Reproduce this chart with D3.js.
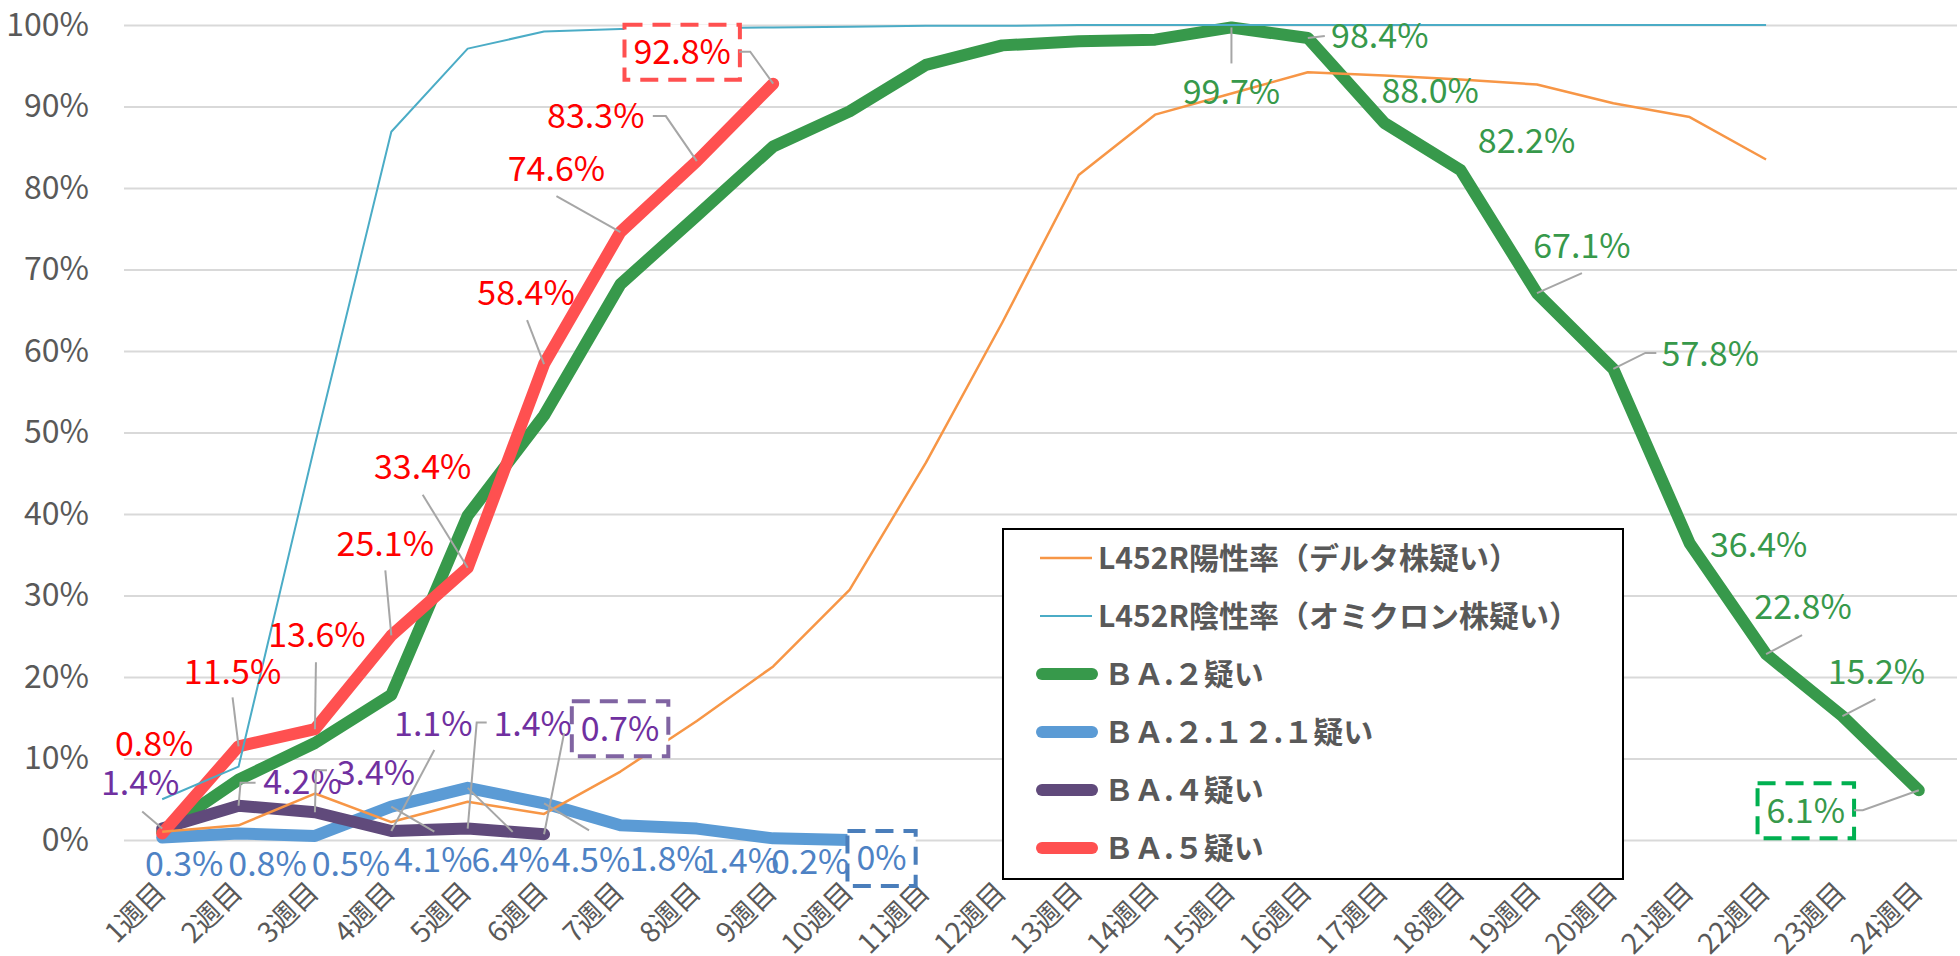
<!DOCTYPE html>
<html>
<head>
<meta charset="utf-8">
<script src="https://cdn.jsdelivr.net/npm/d3@7"></script>
<style>
  body { margin: 0; background: #fff; }
  text { font-family: "Noto Sans CJK JP", "Noto Sans", sans-serif; }
</style>
</head>
<body>
<svg id="chart"></svg>
<script>
// categories
const weeks = d3.range(1, 25).map(i => i + "週目");

// series values (%)
const deltaRate   = [1.0, 1.8, 5.7, 2.2, 4.7, 3.2, 8.4, 14.6, 21.3, 30.7, 46.3, 63.5, 81.6, 89.0, 91.6, 94.2, 93.8, 93.3, 92.7, 90.4, 88.7, 83.5];
const omicronRate = [5.0, 9.0, 48.5, 86.9, 97.1, 99.2, 99.5, 99.6, 99.7, 99.8, 99.9, 99.9, 100, 100, 100, 100, 100, 100, 100, 100, 100, 100];
const ba2    = [1.0, 7.4, 11.9, 17.8, 39.8, 52.1, 68.2, 76.6, 85.1, 89.4, 95.1, 97.5, 98.0, 98.2, 99.7, 98.4, 88.0, 82.2, 67.1, 57.8, 36.4, 22.8, 15.2, 6.1];
const ba2121 = [0.3, 0.8, 0.5, 4.1, 6.4, 4.5, 1.8, 1.4, 0.2, 0.0];
const ba4    = [1.4, 4.2, 3.4, 1.1, 1.4, 0.7];
const ba5    = [0.8, 11.5, 13.6, 25.1, 33.4, 58.4, 74.6, 83.3, 92.8];

const seriesNames = ["L452R陽性率（デルタ株疑い）", "L452R陰性率（オミクロン株疑い）", "ＢＡ.２疑い", "ＢＡ.２.１２.１疑い", "ＢＡ.４疑い", "ＢＡ.５疑い"];
const yTicks = d3.range(0, 101, 10);

// label placement: offset of label centre from its point, leader start / elbow offsets
const ba5Labels = [
  { i: 0, dx: -8, dy: -90 },
  { i: 1, dx: -6, dy: -75, lead: [[-6, -49]] },
  { i: 2, dx: 2, dy: -94, lead: [[1, -67]] },
  { i: 3, dx: -6, dy: -92, lead: [[-6, -65]] },
  { i: 4, dx: -45, dy: -101, lead: [[-45, -73]] },
  { i: 5, dx: -18, dy: -71, lead: [[-17, -44]] },
  { i: 6, dx: -64, dy: -63, lead: [[-64, -36]] },
  { i: 7, dx: -101, dy: -45, lead: [[-44, -45], [-31, -45]] },
  { i: 8, dx: -91, dy: -32, lead: [[-34, -32], [-23, -32]], box: true }
];
const ba4Labels = [
  { i: 0, dx: -22, dy: -46, lead: [[-20, -17]] },
  { i: 1, dx: 64, dy: -24, lead: [[17, -23], [2, -23]] },
  { i: 2, dx: 61, dy: -40, lead: [[12, -42], [1, -42]] },
  { i: 3, dx: 42, dy: -107, lead: [[43, -81]] },
  { i: 4, dx: 65, dy: -105, lead: [[19, -106], [9, -106]] },
  { i: 5, dx: 76, dy: -106, lead: [[20, -101]], box: true }
];
const ba2121Labels = [
  { i: 0, dx: 22, dy: 26 },
  { i: 1, dx: 29, dy: 30 },
  { i: 2, dx: 36, dy: 28 },
  { i: 3, dx: 42, dy: 53, lead: [[43, 25]] },
  { i: 4, dx: 43, dy: 72, lead: [[45, 44]] },
  { i: 5, dx: 47, dy: 56, lead: [[45, 27]] },
  { i: 6, dx: 48, dy: 33 },
  { i: 7, dx: 43, dy: 32 },
  { i: 8, dx: 37, dy: 23 },
  { i: 9, dx: 32, dy: 18, box: true }
];
const ba2Labels = [
  { i: 14, dx: 0, dy: 64, lead: [[0, 36]] },
  { i: 15, dx: 72, dy: -2, lead: [[17, -2]] },
  { i: 16, dx: 46, dy: -32 },
  { i: 17, dx: 66, dy: -29 },
  { i: 18, dx: 45, dy: -47, lead: [[45, -20]] },
  { i: 19, dx: 97, dy: -15, lead: [[43, -16], [32, -16]] },
  { i: 20, dx: 69, dy: 1 },
  { i: 21, dx: 37, dy: -47, lead: [[36, -19]] },
  { i: 22, dx: 34, dy: -44, lead: [[33, -17]] },
  { i: 23, dx: -113, dy: 20, lead: [[-65, 20], [-56, 20]], box: true }
];

const series = [
  { name: seriesNames[2], values: ba2, color: "#37994b", width: 12, text: "#37994b", box: "#00b050", labels: ba2Labels },
  { name: seriesNames[3], values: ba2121, color: "#5b9bd5", width: 12, text: "#4e82c4", box: "#4a7ebb", labels: ba2121Labels },
  { name: seriesNames[4], values: ba4, color: "#604a7b", width: 12, text: "#7030a0", box: "#8064a2", labels: ba4Labels },
  { name: seriesNames[5], values: ba5, color: "#ff5050", width: 12, text: "#ff0000", box: "#ff5050", labels: ba5Labels },
  { name: seriesNames[0], values: deltaRate, color: "#f79646", width: 2.5 },
  { name: seriesNames[1], values: omicronRate, color: "#4bacc6", width: 2 }
];
const legendOrder = [4, 5, 0, 1, 2, 3];

const W = 1960, H = 956;
const plot = { left: 124, right: 1957, top: 25, bottom: 840 };

const svg = d3.select("#chart").attr("width", W).attr("height", H);
svg.append("rect").attr("width", W).attr("height", H).attr("fill", "#fff");

const x = d3.scalePoint().domain(weeks).range([plot.left, plot.right]).padding(0.5);
const y = d3.scaleLinear().domain([0, 100]).range([plot.bottom, plot.top]);

// grid + y labels
svg.append("g")
  .attr("transform", `translate(${plot.left},0)`)
  .call(d3.axisLeft(y).tickValues(yTicks).tickFormat(d => d + "%")
    .tickSizeInner(-(plot.right - plot.left)).tickSizeOuter(0).tickPadding(35))
  .call(g => g.select(".domain").remove())
  .call(g => g.selectAll("line").attr("stroke", "#d9d9d9").attr("stroke-width", 2))
  .call(g => g.selectAll("text")
    .attr("fill", "#595959").attr("font-size", 32)
    .attr("font-family", '"Noto Sans CJK JP", sans-serif'));

// x labels
svg.append("g")
  .attr("transform", `translate(0,${plot.bottom})`)
  .call(d3.axisBottom(x).tickSize(0).tickPadding(0))
  .call(g => g.select(".domain").remove())
  .call(g => g.selectAll("text")
    .attr("y", 0).attr("dy", "0.35em")
    .attr("transform", "translate(-2,47) rotate(-45)")
    .attr("text-anchor", "end")
    .attr("fill", "#595959").attr("font-size", 28)
    .attr("font-family", '"Noto Sans CJK JP", sans-serif'));

const line = d3.line().x((d, i) => x(weeks[i])).y(d => y(d));

svg.append("g")
  .selectAll("path")
  .data(series)
  .join("path")
  .attr("d", s => line(s.values))
  .attr("fill", "none")
  .attr("stroke", s => s.color)
  .attr("stroke-width", s => s.width)
  .attr("stroke-linejoin", "round")
  .attr("stroke-linecap", s => s.width > 5 ? "round" : "butt");

// data labels
const fmt = v => v === 0 ? "0%" : v.toFixed(1) + "%";
const labelG = svg.append("g");

series.filter(s => s.labels).forEach(s => {
  s.labels.forEach(l => {
    const px = x(weeks[l.i]), py = y(s.values[l.i]);
    if (l.lead) {
      const pts = l.lead.map(o => [px + o[0], py + o[1]]).concat([[px, py]]);
      labelG.append("path")
        .attr("d", d3.line()(pts))
        .attr("fill", "none")
        .attr("stroke", "#a6a6a6")
        .attr("stroke-width", 2);
    }
    const t = labelG.append("text")
      .attr("x", px + l.dx)
      .attr("y", py + l.dy)
      .attr("dy", "0.36em")
      .attr("text-anchor", "middle")
      .attr("font-size", 34)
      .attr("fill", s.text)
      .text(fmt(s.values[l.i]));
    if (l.box) {
      const w = t.node().getComputedTextLength() + 18;
      labelG.insert("rect", "text")
        .attr("x", px + l.dx - w / 2)
        .attr("y", py + l.dy - 27)
        .attr("width", w)
        .attr("height", 55)
        .attr("fill", "#fff")
        .attr("stroke", s.box)
        .attr("stroke-width", 4)
        .attr("stroke-dasharray", "18 10");
    }
  });
});

// legend
const legend = svg.append("g");
legend.append("rect")
  .attr("x", 1003).attr("y", 529).attr("width", 620).attr("height", 350)
  .attr("fill", "#fff").attr("stroke", "#000").attr("stroke-width", 2);

legendOrder.forEach((si, k) => {
  const s = series[si];
  const ly = 558 + k * 58;
  const thick = s.width > 5;
  legend.append("line")
    .attr("x1", thick ? 1042 : 1040).attr("x2", 1092)
    .attr("y1", ly).attr("y2", ly)
    .attr("stroke", s.color).attr("stroke-width", s.width)
    .attr("stroke-linecap", thick ? "round" : "butt");
  legend.append("text")
    .attr("x", thick ? 1104 : 1098).attr("y", ly).attr("dy", "0.36em")
    .attr("font-size", 30).attr("font-weight", "bold")
    .attr("fill", "#595959")
    .text(s.name);
});
</script>
</body>
</html>
